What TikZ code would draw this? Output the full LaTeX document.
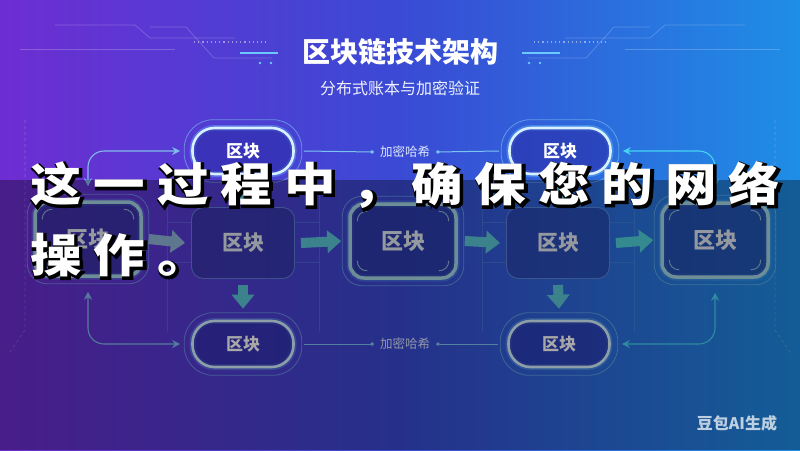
\documentclass[tikz,border=0pt]{standalone}
\usepackage{fontspec}
\newfontfamily\cjk{Noto Sans CJK SC}
\newfontfamily\cjkout{Noto Sans CJK SC}[BoldFeatures={FakeBold=7}]
\usetikzlibrary{arrows.meta}
\definecolor{bgL}{HTML}{6E2DD2}
\definecolor{bgM}{HTML}{3A4AD4}
\definecolor{bgR}{HTML}{1E8EE6}
\definecolor{pillLine}{HTML}{D8F0FF}
\definecolor{pillFill}{HTML}{2A2CA8}
\definecolor{glowC}{HTML}{6CC8FF}
\definecolor{ringC}{HTML}{7CC4F0}
\definecolor{bigLine}{HTML}{A8D8E6}
\definecolor{bigFill}{HTML}{23308E}
\definecolor{nodeTxt}{HTML}{E2E8F2}
\definecolor{plainLine}{HTML}{6A9AE0}
\definecolor{arrA}{HTML}{90B4D8}
\definecolor{arrB}{HTML}{5CC6D6}
\definecolor{arrC}{HTML}{50D2D8}
\definecolor{connL}{HTML}{80BCEC}
\definecolor{connR}{HTML}{46D4F2}
\definecolor{hashC}{HTML}{DCE6FF}
\tikzset{
  pill/.style={draw=pillLine, line width=2.6pt, fill=pillFill, fill opacity=0.6, text opacity=1,
    rounded corners=22pt, minimum width=101pt, minimum height=46pt, inner sep=0pt,
    text=white, font=\cjk\bfseries\fontsize{17}{17}\selectfont,
    preaction={draw=glowC, line width=6pt, draw opacity=0.35}},
  ring/.style={draw=ringC, line width=0.8pt, draw opacity=0.6},
  bignode/.style={draw=bigLine, line width=3.5pt, fill=bigFill, fill opacity=0.55, text opacity=1,
    rounded corners=14pt, minimum width=106pt, minimum height=74pt, inner sep=0pt,
    text=nodeTxt, font=\cjk\bfseries\fontsize{22}{22}\selectfont,
    preaction={draw=glowC, line width=7pt, draw opacity=0.25}},
  plainbox/.style={draw=plainLine, draw opacity=0.7, line width=0.9pt, fill=bigFill, fill opacity=0.45,
    text opacity=1, rounded corners=12pt, minimum width=103pt, minimum height=71pt, inner sep=0pt,
    text=nodeTxt, font=\cjk\bfseries\fontsize{21}{21}\selectfont},
  tickline/.style={draw=bigLine, line width=0.9pt, draw opacity=0.8},
  hashlbl/.style={text=hashC, font=\cjk\fontsize{12.5}{12.5}\selectfont, inner sep=6pt},
  hashline/.style={draw=ringC, line width=1pt},
  blk/.style={draw=#1, line width=10pt, -{Triangle[width=22pt,length=14pt]}},
  conn/.style={draw=#1, line width=1.1pt, rounded corners=16pt,
    {Stealth[length=8pt,width=8pt]}-{Stealth[length=8pt,width=8pt]}},
  deco/.style={draw=white, line width=0.7pt, draw opacity=0.22},
  framel/.style={draw=plainLine, line width=0.7pt, draw opacity=0.35},
  capt/.style={inner sep=0pt, anchor=west, font=\cjkout\bfseries\fontsize{46}{46}\selectfont},
}
\newcommand\cornerticks[1]{%
  \foreach \a/\sx/\sy in {north west/1/1, north east/-1/1, south west/1/-1, south east/-1/-1}
    \draw[tickline] ([shift={(\sx*9,\sy*19)}]#1.\a) .. controls ([shift={(\sx*9,\sy*13)}]#1.\a) and ([shift={(\sx*13,\sy*9)}]#1.\a) .. ([shift={(\sx*19,\sy*9)}]#1.\a);}
\newcommand\cb[1]{\makebox[56.7pt][c]{#1}}
\newcommand\lineone{\cb{这}\cb{一}\cb{过}\cb{程}\cb{中}\makebox[56.7pt][l]{\hspace{9pt}，}\cb{确}\cb{保}\cb{您}\cb{的}\cb{网}\cb{络}}
\newcommand\linetwo{\cb{操}\cb{作}\cb{。}}
\begin{document}
\begin{tikzpicture}[x=1pt,y=-1pt]
\useasboundingbox (0,0) rectangle (800,450);
\shade[left color=bgL, right color=bgR, middle color=bgM] (0,0) rectangle (800,450);

% title decorations
\begin{scope}[deco]
  \draw (55,25) -- (135,25) -- (150,38) -- (235,38);
  \draw (20,49) -- (175,49);
  \draw (150,27) -- (186,27) -- (214,58) -- (272,58);
  \draw (745,25) -- (665,25) -- (650,38) -- (565,38);
  \draw (780,49) -- (625,49);
  \draw (650,27) -- (614,27) -- (586,58) -- (528,58);
  \draw[dashed] (25,120) -- (25,330) -- (8,355);
  \draw[dashed] (775,120) -- (775,330) -- (792,355);
\end{scope}
\draw[white, line width=1.2pt, dash pattern=on 1.2pt off 3pt, draw opacity=0.45] (194,42) -- (266,42);
\draw[white, line width=1.2pt, dash pattern=on 1.2pt off 3pt, draw opacity=0.45] (534,42) -- (606,42);
\draw[glowC, line width=2.5pt] (240,53) -- (278,53);
\draw[glowC, line width=2.5pt] (522,53) -- (560,53);
\fill[glowC] (260,63) circle (1.3) (271,63) circle (1.3) (529,63) circle (1.3) (540,63) circle (1.3);

\node[text=white, font=\cjk\bfseries\fontsize{28}{28}\selectfont] (title) at (400,52) {区块链技术架构};
\node[text=white, text opacity=0.92, font=\cjk\fontsize{16}{16}\selectfont] (sub) at (400,88) {分布式账本与加密验证};

% frame lines around plain nodes
\begin{scope}[framel]
  \draw (167,186) -- (167,332);  \draw (319,186) -- (319,332);
  \draw (167,222) -- (191,222);  \draw (167,262) -- (191,262);
  \draw (295,222) -- (319,222);  \draw (295,262) -- (319,262);
  \draw (482,186) -- (482,332);  \draw (634,186) -- (634,332);
  \draw (482,222) -- (506,222);  \draw (482,262) -- (506,262);
  \draw (610,222) -- (634,222);  \draw (610,262) -- (634,262);
\end{scope}

% nodes
\node[pill] (t1) at (243,151) {区块};
\node[pill] (t2) at (560,151) {区块};
\node[pill] (b1) at (243,344) {区块};
\node[pill] (b2) at (559,344) {区块};
\foreach \n in {t1,t2,b1,b2}
  \draw[ring, rounded corners=29pt] ([shift={(-7,-7)}]\n.north west) rectangle ([shift={(7,7)}]\n.south east);

\node[bignode] (l1) at (88,239) {区块};
\node[bignode] (m1) at (403,241) {区块};
\node[bignode] (r1) at (715,240) {区块};
\foreach \n in {l1,m1,r1}{
  \draw[ring, rounded corners=20pt] ([shift={(-6,-6)}]\n.north west) rectangle ([shift={(6,6)}]\n.south east);
  \cornerticks{\n}
}
\node[plainbox] (p1) at (243,243) {区块};
\node[plainbox] (p2) at (558,243) {区块};

\node[hashlbl] (h1) at (405,152) {加密哈希};
\node[hashlbl] (h2) at (405,344) {加密哈希};

% hash lines
\draw[hashline, -{Circle[length=3.5pt]}] ([shift={(9,0)}]t1.east) -- (h1.west);
\draw[hashline, {Circle[length=3.5pt]}-] (h1.east) -- ([shift={(-9,0)}]t2.west);
\draw[hashline, -{Circle[length=3.5pt]}] ([shift={(9,0)}]b1.east) -- (h2.west);
\draw[hashline, {Circle[length=3.5pt]}-] (h2.east) -- ([shift={(-9,0)}]b2.west);

% curved connectors
\draw[conn=connL] ([shift={(0,-14)}]l1.north) |- ([shift={(-11,0)}]t1.west);
\draw[conn=connL] ([shift={(0,14)}]l1.south) |- ([shift={(-11,0)}]b1.west);
\draw[conn=connR] ([shift={(0,-14)}]r1.north) |- ([shift={(11,0)}]t2.east);
\draw[conn=connR] ([shift={(0,14)}]r1.south) |- ([shift={(11,0)}]b2.east);

% block arrows
\draw[blk=arrA] ([shift={(6,0)}]l1.east) -- ([shift={(-6,0)}]p1.west);
\draw[blk=arrB] ([shift={(6,0)}]p1.east) -- ([shift={(-7,0)}]m1.west);
\draw[blk=arrB] ([shift={(7,0)}]m1.east) -- ([shift={(-6,0)}]p2.west);
\draw[blk=arrC] ([shift={(6,0)}]p2.east) -- ([shift={(-7,0)}]r1.west);
\draw[blk=arrB] ([shift={(0,6)}]p1.south) -- ([shift={(0,-11)}]b1.north);
\draw[blk=arrB] ([shift={(0,6)}]p2.south) -- ([shift={(0,-11)}]b2.north);
\draw[blk=arrB] ([shift={(0,9)}]t1.south) -- ([shift={(0,-3)}]p1.north);
\draw[blk=arrB] ([shift={(0,9)}]t2.south) -- ([shift={(0,-3)}]p2.north);

% dark caption overlay
\fill[black, opacity=0.34] (0,180) rectangle (800,450);

% caption text: black outlined copy, then white
\node[capt, text=black] (c1s) at (25.5,186.5) {\scalebox{1.12}[1]{\lineone}};
\node[capt, text=white, font=\cjk\bfseries\fontsize{46}{46}\selectfont] (c1) at (24,185) {\scalebox{1.12}[1]{\lineone}};
\node[capt, text=black] (c2s) at (25.5,256.5) {\scalebox{1.12}[1]{\linetwo}};
\node[capt, text=white, font=\cjk\bfseries\fontsize{46}{46}\selectfont] (c2) at (24,255) {\scalebox{1.12}[1]{\linetwo}};

\node[text=white, text opacity=0.72, font=\cjk\bfseries\fontsize{16}{16}\selectfont] (wm) at (737,423) {豆包AI生成};
\end{tikzpicture}
\end{document}
